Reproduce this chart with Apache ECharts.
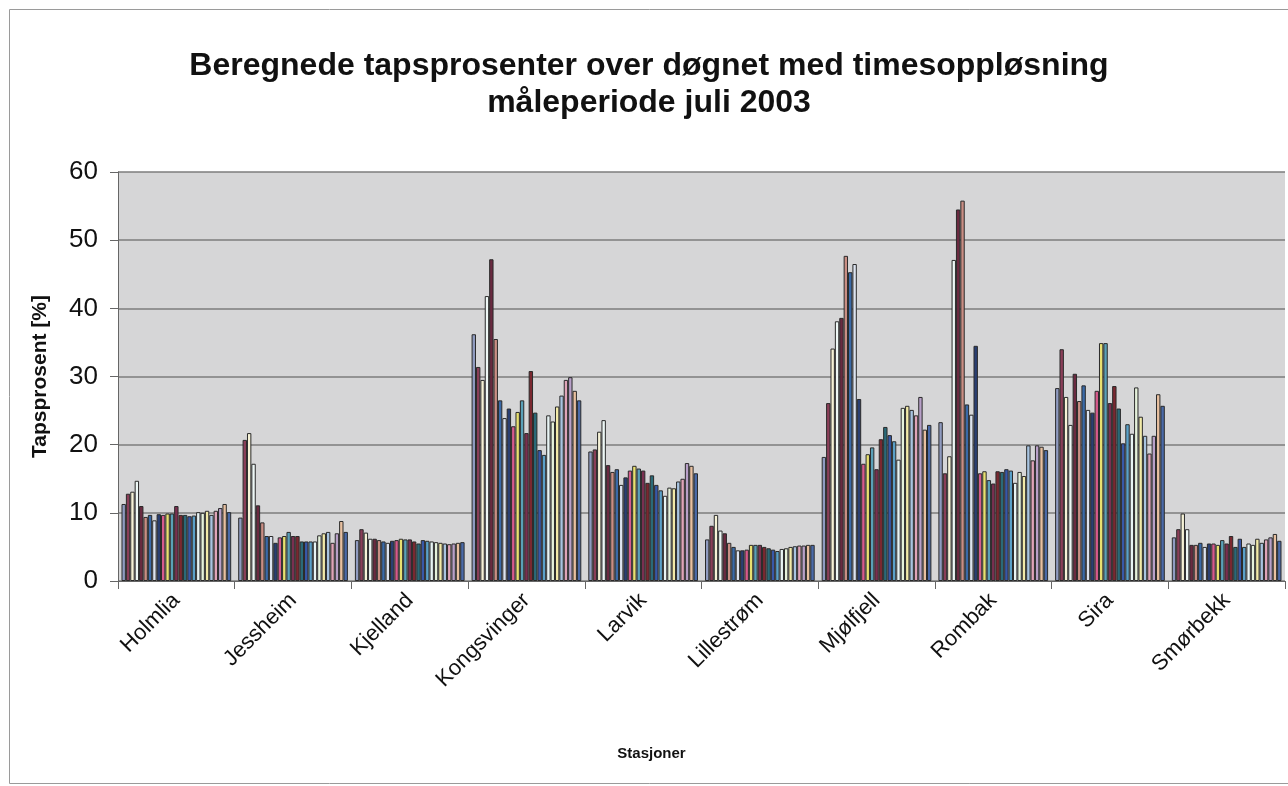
<!DOCTYPE html>
<html>
<head>
<meta charset="utf-8">
<script src="https://cdn.jsdelivr.net/npm/echarts@6/dist/echarts.min.js"></script>
<style>
  html, body { margin: 0; padding: 0; background: #ffffff; }
  #chart { width: 1288px; height: 786px; }
</style>
</head>
<body>
<div id="chart"></div>
<script>
// Stations (categories)
const stations = ['Holmlia', 'Jessheim', 'Kjelland', 'Kongsvinger', 'Larvik', 'Lillestrøm', 'Mjølfjell', 'Rombak', 'Sira', 'Smørbekk'];

// Loss percentage per station, one value per hourly series (25 series)
const holmlia     = [11.3, 12.8, 13.1, 14.7, 11.0, 9.4, 9.7, 8.9, 9.8, 9.7, 9.9, 9.9, 11.0, 9.7, 9.7, 9.5, 9.6, 10.1, 10.0, 10.3, 9.7, 10.3, 10.7, 11.3, 10.1];
const jessheim    = [9.3, 20.7, 21.7, 17.2, 11.1, 8.6, 6.6, 6.6, 5.6, 6.4, 6.6, 7.2, 6.6, 6.6, 5.8, 5.8, 5.8, 5.8, 6.7, 7.0, 7.2, 5.6, 7.0, 8.8, 7.2];
const kjelland    = [6.0, 7.6, 7.1, 6.2, 6.2, 6.0, 5.8, 5.6, 5.9, 6.0, 6.2, 6.1, 6.1, 5.8, 5.5, 6.0, 5.9, 5.8, 5.7, 5.6, 5.5, 5.4, 5.5, 5.6, 5.7];
const kongsvinger = [36.2, 31.4, 29.5, 41.8, 47.2, 35.5, 26.5, 23.9, 25.3, 22.7, 24.8, 26.5, 21.7, 30.8, 24.7, 19.2, 18.5, 24.3, 23.4, 25.6, 27.2, 29.5, 29.9, 27.9, 26.5];
const larvik      = [19.0, 19.3, 21.9, 23.6, 17.0, 16.0, 16.4, 14.1, 15.2, 16.2, 16.9, 16.5, 16.2, 14.4, 15.5, 14.1, 13.3, 12.5, 13.7, 13.6, 14.6, 15.0, 17.3, 16.9, 15.8];
const lillestrom  = [6.1, 8.1, 9.7, 7.4, 7.0, 5.6, 5.0, 4.5, 4.5, 4.6, 5.3, 5.3, 5.3, 5.0, 4.8, 4.6, 4.4, 4.7, 4.8, 5.0, 5.1, 5.2, 5.2, 5.3, 5.3];
const mjolfjell   = [18.2, 26.1, 34.1, 38.1, 38.6, 47.7, 45.3, 46.5, 26.7, 17.2, 18.6, 19.6, 16.4, 20.8, 22.6, 21.4, 20.5, 17.8, 25.4, 25.7, 25.1, 24.3, 27.0, 22.2, 22.9];
const rombak      = [23.3, 15.8, 18.3, 47.1, 54.5, 55.8, 25.9, 24.4, 34.5, 15.8, 16.1, 14.8, 14.3, 16.1, 16.0, 16.4, 16.2, 14.4, 16.0, 15.4, 19.9, 17.7, 19.9, 19.7, 19.2];
const sira        = [28.3, 34.0, 27.0, 22.9, 30.4, 26.4, 28.7, 25.1, 24.7, 27.9, 34.9, 34.9, 26.1, 28.6, 25.3, 20.2, 23.0, 21.6, 28.4, 24.1, 21.3, 18.7, 21.3, 27.4, 25.7];
const smorbekk    = [6.4, 7.6, 9.9, 7.6, 5.3, 5.3, 5.6, 5.0, 5.5, 5.5, 5.3, 6.0, 5.5, 6.6, 5.0, 6.2, 5.0, 5.5, 5.3, 6.2, 5.6, 6.1, 6.4, 6.9, 5.9];

const stationValues = [holmlia, jessheim, kjelland, kongsvinger, larvik, lillestrom, mjolfjell, rombak, sira, smorbekk];

// Y axis ticks
const yTicks = [0, 10, 20, 30, 40, 50, 60];

// Series colours (Excel chart fill order, as seen in the scan)
const palette = ['#8f9bc0', '#8a3e58', '#f6f2d6', '#eef8f6', '#6a2a40', '#c98e84', '#3a6aa8', '#dde4f0',
                 '#2a3f72', '#d65a8c', '#e8e070', '#5aa0b8', '#7a3050', '#7a2830', '#2a6a78', '#3858a8',
                 '#5aa0c8', '#e8f4f4', '#e6f2dc', '#f2eaa8', '#a8c4e0', '#e0a4b8', '#b8a0c8', '#e8c0a0', '#4a6aa8'];

const FONT = 'Arial, "Liberation Sans", sans-serif';
const nSeries = holmlia.length;
const series = [];
for (let s = 0; s < nSeries; s++) {
  series.push({
    name: 'Time ' + (s + 1),
    type: 'bar',
    data: stationValues.map(v => v[s]),
    barGap: '0%',
    barCategoryGap: '6%',
    itemStyle: { color: palette[s % palette.length], borderColor: '#2a2a2a', borderWidth: 1 },
    emphasis: { disabled: true },
    animation: false
  });
}

const chart = echarts.init(document.getElementById('chart'), null, { renderer: 'canvas' });
chart.setOption({
  backgroundColor: '#ffffff',
  animation: false,
  graphic: [{
    type: 'rect',
    shape: { x: 9.5, y: 9.5, width: 1290, height: 774 },
    style: { fill: 'none', stroke: '#9a9a9a', lineWidth: 1 },
    silent: true, z: -10
  }],
  title: {
    text: 'Beregnede tapsprosenter over døgnet med timesoppløsning\nmåleperiode juli 2003',
    left: 644,
    top: 43,
    textAlign: 'center',
    textStyle: { fontFamily: FONT, fontSize: 32, fontWeight: 'bold', color: '#111', lineHeight: 37 }
  },
  grid: {
    left: 118, right: 3, top: 172, bottom: 205,
    show: true, backgroundColor: '#d6d6d7', borderWidth: 0
  },
  xAxis: {
    type: 'category',
    data: stations,
    name: 'Stasjoner',
    nameLocation: 'middle',
    nameGap: 165,
    nameTextStyle: { fontFamily: FONT, fontSize: 15, fontWeight: 'bold', color: '#111', padding: [0, 100, 0, 0] },
    axisLine: { show: true, lineStyle: { color: '#666', width: 1 } },
    axisTick: { show: true, length: 8, lineStyle: { color: '#666' } },
    axisLabel: { rotate: 45, margin: 16, fontFamily: FONT, fontSize: 22, color: '#111', interval: 0 }
  },
  yAxis: {
    type: 'value',
    min: yTicks[0],
    max: yTicks[yTicks.length - 1],
    interval: 10,
    name: 'Tapsprosent [%]',
    nameLocation: 'middle',
    nameGap: 67,
    nameTextStyle: { fontFamily: FONT, fontSize: 21, fontWeight: 'bold', color: '#111' },
    axisLine: { show: true, lineStyle: { color: '#666', width: 1 } },
    axisTick: { show: true, length: 8, lineStyle: { color: '#666' } },
    axisLabel: { margin: 20, fontFamily: FONT, fontSize: 26, color: '#111' },
    splitLine: { show: true, lineStyle: { color: '#7c7c7c', width: 1.5 } }
  },
  series: series
});
</script>
</body>
</html>
